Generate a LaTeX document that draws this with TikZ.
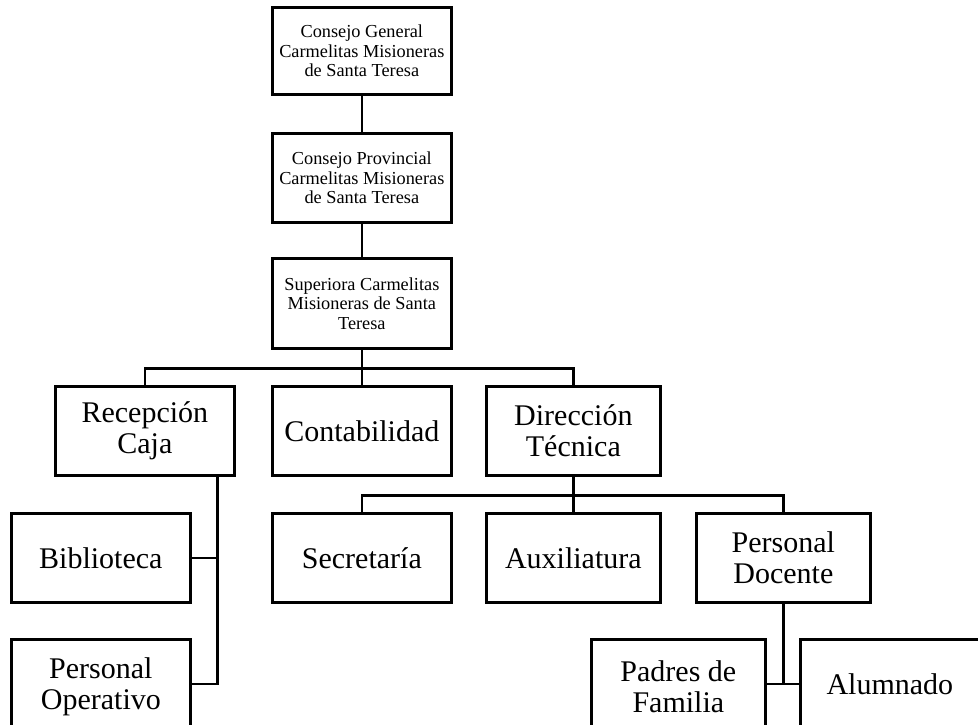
\documentclass[tikz,border=0pt]{standalone}
\usepackage{fontspec}
\setmainfont{Liberation Serif}
\usetikzlibrary{calc}
\begin{document}
\begin{tikzpicture}[x=1pt,y=-1pt,
  line width=2.7pt,
  box/.style={draw, rectangle, anchor=north west, inner sep=0pt, align=center, line width=2.7pt},
  smallbox/.style={box, minimum width=179pt, font=\fontsize{18.3}{19.5}\selectfont},
  bigbox/.style={box, minimum height=89pt, font=\fontsize{30}{31}\selectfont},
  wide/.style={minimum width=179pt},
  narrow/.style={minimum width=174pt},
  link/.style={draw, line width=2.7pt}]
\useasboundingbox (0,0) rectangle (978,725);
\clip (0,0) rectangle (978,725);
% top chain
\node[smallbox, minimum height=87pt] (cg) at (271,6) {Consejo General\\Carmelitas Misioneras\\de Santa Teresa};
\node[smallbox, minimum height=89pt] (cp) at (271,132) {Consejo Provincial\\Carmelitas Misioneras\\de Santa Teresa};
\node[smallbox, minimum height=90pt] (sup) at (271,257) {Superiora Carmelitas\\Misioneras de Santa\\Teresa};
% second row
\node[bigbox, wide] (rec) at (54,385) {Recepción\\Caja};
\node[bigbox, wide] (con) at (271,385) {Contabilidad};
\node[bigbox, narrow] (dir) at (485,385) {Dirección\\Técnica};
% third row
\node[bigbox, wide] (bib) at (10,512) {Biblioteca};
\node[bigbox, wide] (sec) at (271,512) {Secretaría};
\node[bigbox, narrow] (aux) at (485,512) {Auxiliatura};
\node[bigbox, narrow] (pd) at (695,512) {Personal\\Docente};
% fourth row
\node[bigbox, wide] (po) at (10,638) {\rule{0pt}{27pt}Personal\\Operativo};
\node[bigbox, narrow] (pf) at (590,638) {\rule{0pt}{27pt}Padres de\\Familia};
\node[bigbox, wide] (al) at (799,638) {Alumnado};
% connectors
\draw[link] (cg.south) -- (cp.north);
\draw[link] (cp.south) -- (sup.north);
\coordinate (j1) at ($(sup.south)+(0,19)$);
\draw[link] (sup.south) -- (j1);
\draw[link] (j1) -| (rec.north);
\draw[link] (j1) -- (con.north);
\draw[link] (j1) -| (dir.north);
\coordinate (rj) at ([xshift=-18pt]rec.south east);
\draw[link] (rj) |- (bib.east);
\draw[link] (rj) |- (po.east);
\coordinate (j2) at ($(dir.south)+(0,19)$);
\draw[link] (dir.south) -- (j2);
\draw[link] (j2) -| (sec.north);
\draw[link] (j2) -- (aux.north);
\draw[link] (j2) -| (pd.north);
\draw[link] (pd.south) |- (pf.east);
\draw[link] (pf.east) -- (al.west);
\end{tikzpicture}
\end{document}
